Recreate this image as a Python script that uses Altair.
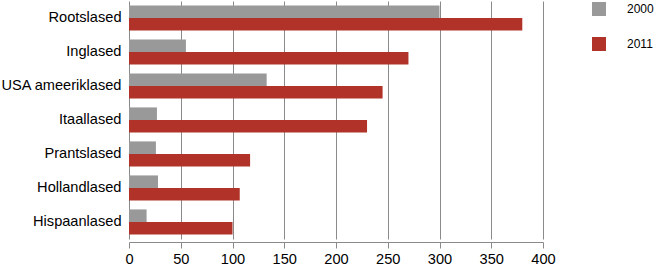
import altair as alt
import pandas as pd

categories = ["Rootslased", "Inglased", "USA ameeriklased", "Itaallased",
              "Prantslased", "Hollandlased", "Hispaanlased"]
values_2000 = [300, 55, 133, 27, 26, 28, 17]
values_2011 = [380, 270, 245, 230, 117, 107, 100]
years = ["2000", "2011"]
colors = ["#999999", "#b03228"]

rows = []
for c, a, b in zip(categories, values_2000, values_2011):
    rows.append({"cat": c, "year": years[0], "value": a})
    rows.append({"cat": c, "year": years[1], "value": b})
df = pd.DataFrame(rows)

font = "Liberation Sans"

chart = alt.Chart(df).mark_bar().encode(
    y=alt.Y("cat:N", sort=categories, title=None,
            scale=alt.Scale(paddingInner=0.26, paddingOuter=0.13),
            axis=alt.Axis(domain=False, ticks=False, grid=False, labelPadding=8,
                          labelFont=font, labelFontSize=14.6, labelColor="#000000")),
    x=alt.X("value:Q", title=None,
            scale=alt.Scale(domain=[0, 400], nice=False),
            axis=alt.Axis(values=[0, 50, 100, 150, 200, 250, 300, 350, 400],
                          grid=True, gridColor="#8a8a8a", gridWidth=1,
                          domainColor="#8a8a8a", tickColor="#8a8a8a", tickSize=6,
                          offset=3, labelPadding=3, labelFont=font, labelFontSize=14.6,
                          labelColor="#000000", labelFlush=False)),
    yOffset=alt.YOffset("year:N", sort=years),
    color=alt.Color("year:N", sort=years,
                    scale=alt.Scale(domain=years, range=colors),
                    legend=alt.Legend(title=None, orient="none", legendX=463, legendY=1,
                                      symbolType="square", symbolSize=196,
                                      symbolStrokeWidth=0, symbolOpacity=1,
                                      labelFont=font, labelFontSize=12,
                                      labelColor="#000000", labelOffset=21,
                                      rowPadding=21, padding=0)),
).properties(
    width=414, height=238,
    autosize=alt.AutoSizeParams(type="none"),
    padding={"left": 129, "top": 1, "right": 113, "bottom": 31},
).configure_view(stroke=None).configure_axis(domainWidth=1)

chart.save("out.html", embed_options={"renderer": "svg", "actions": False})
